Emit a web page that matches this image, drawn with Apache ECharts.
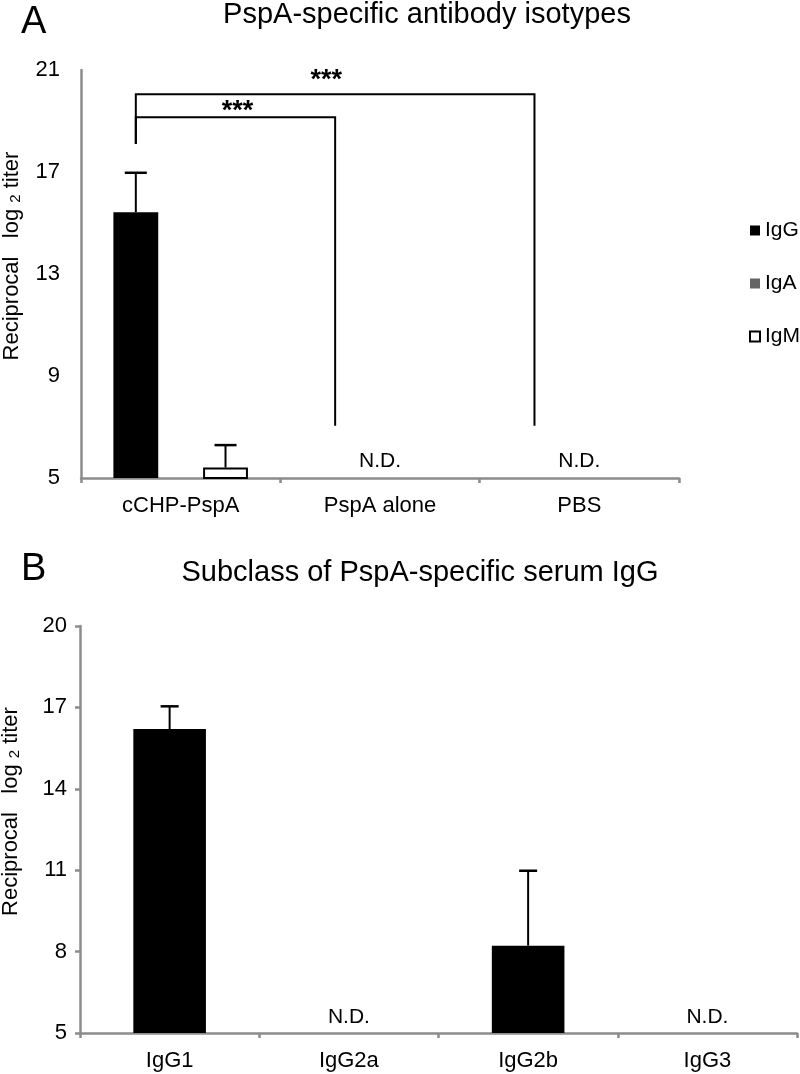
<!DOCTYPE html>
<html><head><meta charset="utf-8">
<script src="https://cdn.jsdelivr.net/npm/echarts@6/dist/echarts.min.js"></script>
<style>html,body{margin:0;padding:0;background:#fff}#c{width:800px;height:1074px}</style>
</head><body><div id="c"></div>
<script>
// ---------- Panel A data ----------
const categoriesA = ['cCHP-PspA', 'PspA alone', 'PBS'];
const igG = [15.42, null, null];
const igGErr = [1.55, null, null];
const igA = [5, 5, 5];
const igM = [5.41, null, null];
const igMErr = [0.88, null, null];
const ndA = ['', 'N.D.', 'N.D.'];
// significance brackets: [fromCategory, toCategory, topValue, leftFootValue, rightFootValue, starsValue]
const brackets = [[0, 1, 19.15, 18.1, 7.05, 19.55], [0, 2, 20.05, 18.1, 7.05, 20.8]];
const bracketText = ['***', '***'];

// ---------- Panel B data ----------
const categoriesB = ['IgG1', 'IgG2a', 'IgG2b', 'IgG3'];
const subclassVals = [16.2, 5, 8.22, 5];
const subclassErr = [0.84, null, 2.76, null];
const ndB = ['', 'N.D.', '', 'N.D.'];

const FONT = 'Liberation Sans, Arial, sans-serif';
const AXIS_GREY = '#8c8c8c';
const barFracA = 0.225;
const barFracB = 0.405;

function errSeries(name, xIdx, yIdx, vals, errs, offFrac, capW) {
  const data = [];
  vals.forEach((v, i) => { if (v != null && errs[i] != null) data.push([i, v, errs[i]]); });
  return {
    type: 'custom', name: name, xAxisIndex: xIdx, yAxisIndex: yIdx, z: 10,
    encode: { x: 0, y: 1 }, data: data, silent: true,
    renderItem: function (params, api) {
      const cat = api.value(0), v = api.value(1), e = api.value(2);
      const band = api.size([1, 0])[0];
      const p0 = api.coord([cat, v]);
      const p1 = api.coord([cat, v + e]);
      const x = p0[0] + offFrac * band;
      return { type: 'group', children: [
        { type: 'line', shape: { x1: x, y1: p0[1], x2: x, y2: p1[1] }, style: { stroke: '#000', lineWidth: 2 } },
        { type: 'line', shape: { x1: x - capW / 2, y1: p1[1], x2: x + capW / 2, y2: p1[1] }, style: { stroke: '#000', lineWidth: 2.5 } }
      ] };
    }
  };
}

const yName = 'Reciprocal   log {s|2} titer';
const yNameStyle = { fontFamily: FONT, fontSize: 22, color: '#000', padding: [0, 0, 0, 36],
  rich: { s: { fontFamily: FONT, fontSize: 15, color: '#000', padding: [8, 0, 0, 0] } } };

const option = {
  animation: false,
  backgroundColor: '#fff',
  graphic: [
    { type: 'text', left: 21, top: 4, style: { text: 'A', font: '38px ' + FONT, fill: '#000' } },
    { type: 'text', left: 21, top: 551, style: { text: 'B', font: '38px ' + FONT, fill: '#000' } },
    { type: 'text', x: 427, y: 15, style: { text: 'PspA-specific antibody isotypes', font: '29px ' + FONT, fill: '#000', textAlign: 'center', textVerticalAlign: 'middle' } },
    { type: 'text', x: 420, y: 573, style: { text: 'Subclass of PspA-specific serum IgG', font: '29px ' + FONT, fill: '#000', textAlign: 'center', textVerticalAlign: 'middle' } }
  ],
  legend: {
    orient: 'vertical', left: 744, top: 215, itemGap: 32, itemWidth: 10, itemHeight: 10,
    data: ['IgG', 'IgA', 'IgM'],
    textStyle: { fontFamily: FONT, fontSize: 21, color: '#000' },
    icon: 'rect'
  },
  grid: [
    { left: 81, top: 70, right: 121, height: 408, outerBoundsMode: 'none', containLabel: false },
    { left: 80, top: 626, right: 3, height: 407, outerBoundsMode: 'none', containLabel: false }
  ],
  xAxis: [
    { type: 'category', gridIndex: 0, data: categoriesA, boundaryGap: true,
      axisLine: { lineStyle: { color: AXIS_GREY, width: 2.5 } },
      axisTick: { show: true, length: 5, lineStyle: { color: AXIS_GREY, width: 2.5 } },
      axisLabel: { fontFamily: FONT, fontSize: 22, color: '#000', margin: 17 } },
    { type: 'category', gridIndex: 1, data: categoriesB, boundaryGap: true,
      axisLine: { lineStyle: { color: AXIS_GREY, width: 2.5 } },
      axisTick: { show: true, length: 5, lineStyle: { color: AXIS_GREY, width: 2.5 } },
      axisLabel: { fontFamily: FONT, fontSize: 22, color: '#000', margin: 17 } }
  ],
  yAxis: [
    { type: 'value', gridIndex: 0, min: 5, max: 21, interval: 4,
      name: yName, nameLocation: 'middle', nameGap: 58, nameTextStyle: yNameStyle,
      axisLine: { show: true, lineStyle: { color: AXIS_GREY, width: 2.5 } },
      axisTick: { show: false }, splitLine: { show: false },
      axisLabel: { fontFamily: FONT, fontSize: 22, color: '#000', margin: 21 } },
    { type: 'value', gridIndex: 1, min: 5, max: 20, interval: 3,
      name: yName, nameLocation: 'middle', nameGap: 58, nameTextStyle: yNameStyle,
      axisLine: { show: true, lineStyle: { color: AXIS_GREY, width: 2.5 } },
      axisTick: { show: true, length: 5, lineStyle: { color: AXIS_GREY, width: 2.5 } }, splitLine: { show: false },
      axisLabel: { fontFamily: FONT, fontSize: 22, color: '#000', margin: 13 } }
  ],
  series: [
    { type: 'bar', name: 'IgG', xAxisIndex: 0, yAxisIndex: 0, data: igG, barWidth: (barFracA * 100) + '%', barGap: '0%',
      itemStyle: { color: '#000' } },
    { type: 'bar', name: 'IgA', xAxisIndex: 0, yAxisIndex: 0, data: igA, barWidth: (barFracA * 100) + '%', barGap: '0%',
      itemStyle: { color: '#646464' },
      label: { show: true, position: 'top', distance: 6, formatter: p => ndA[p.dataIndex], fontFamily: FONT, fontSize: 21, color: '#000' } },
    { type: 'bar', name: 'IgM', xAxisIndex: 0, yAxisIndex: 0, data: igM, barWidth: (barFracA * 100) + '%', barGap: '0%',
      itemStyle: { color: '#fff', borderColor: '#000', borderWidth: 2 } },
    errSeries('errIgG', 0, 0, igG, igGErr, -barFracA, 22),
    errSeries('errIgM', 0, 0, igM, igMErr, barFracA, 22),
    { type: 'custom', name: 'brackets', xAxisIndex: 0, yAxisIndex: 0, z: 10, silent: true,
      encode: { x: 0, y: 2 }, data: brackets,
      renderItem: function (params, api) {
        const from = api.value(0), to = api.value(1), top = api.value(2), lf = api.value(3), rf = api.value(4), sv = api.value(5);
        const band = api.size([1, 0])[0];
        const off = -barFracA * band;
        const a = api.coord([from, top]), b = api.coord([to, top]);
        const xl = a[0] + off, xr = b[0] + off;
        const yl = api.coord([from, lf])[1], yr = api.coord([to, rf])[1];
        const ys = api.coord([from, sv])[1];
        return { type: 'group', children: [
          { type: 'polyline', shape: { points: [[xl, yl], [xl, a[1]], [xr, a[1]], [xr, yr]] }, style: { stroke: '#000', lineWidth: 2, fill: null } },
          { type: 'text', style: { text: bracketText[params.dataIndex], x: (xl + xr) / 2 - (params.dataIndex === 1 ? 9 : -2), y: ys + 5, align: 'center', verticalAlign: 'middle', font: 'bold 27px ' + FONT, fill: '#000' } }
        ] };
      } },
    { type: 'bar', name: 'Subclass', xAxisIndex: 1, yAxisIndex: 1, data: subclassVals, barWidth: (barFracB * 100) + '%',
      itemStyle: { color: '#000' },
      label: { show: true, position: 'top', distance: 5, formatter: p => ndB[p.dataIndex], fontFamily: FONT, fontSize: 21, color: '#000' } },
    errSeries('errSub', 1, 1, subclassVals, subclassErr, 0, 18)
  ]
};
const chart = echarts.init(document.getElementById('c'), null, { renderer: 'canvas' });
chart.setOption(option);
</script>
</body></html>
